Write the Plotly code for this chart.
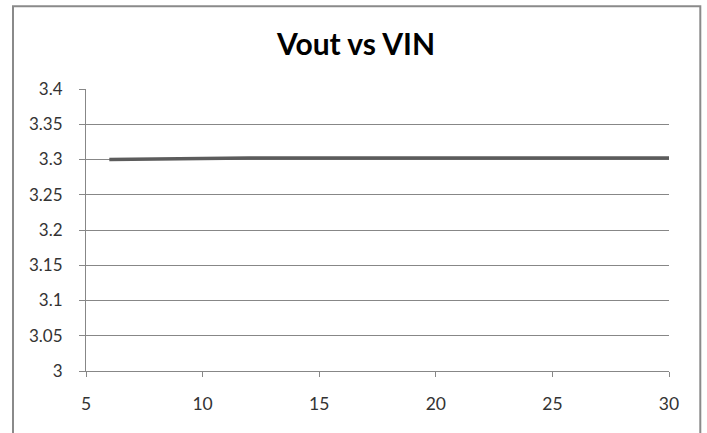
import plotly.graph_objects as go

vin = [6, 7, 8, 9, 10, 12, 15, 20, 25, 30]
vout = [3.300, 3.3005, 3.301, 3.3015, 3.302, 3.302, 3.302, 3.302, 3.302, 3.302]

x_ticks = [5, 10, 15, 20, 25, 30]
y_ticks = [3.0, 3.05, 3.1, 3.15, 3.2, 3.25, 3.3, 3.35, 3.4]
y_tick_labels = ["3", "3.05", "3.1", "3.15", "3.2", "3.25", "3.3", "3.35", "3.4"]

title_text = "Vout vs VIN"

W, H = 707, 433
# plot area in window pixels: x 86..669, y 89..371.5
L = 86
T = 89
R = W - 669
B = H - 371.5
pw = W - L - R
ph = H - T - B

def wx(px):  # window px -> paper x
    return (px - L) / pw

def wy(py):  # window px -> paper y
    return (H - B - py) / ph

fig = go.Figure()
fig.add_trace(go.Scatter(
    x=vin, y=vout, mode="lines",
    line=dict(color="#5c5c5c", width=3.5),
    showlegend=False, hoverinfo="skip",
))

fig.update_layout(
    width=W, height=H,
    margin=dict(l=L, r=R, t=T, b=B),
    paper_bgcolor="white", plot_bgcolor="white",
    font=dict(family="Lato", color="#333333"),
    title=dict(text="<b>" + title_text + "</b>", x=wx(356), xref="paper",
               xanchor="center", y=1 - 44 / H, yanchor="middle",
               font=dict(family="Lato", size=30, color="black")),
    xaxis=dict(range=[5, 30], tickvals=x_ticks, ticktext=[str(v) for v in x_ticks],
               showgrid=False, zeroline=False, showline=True, linecolor="#878787",
               linewidth=1, ticks="outside", ticklen=5, tickcolor="#878787",
               tickfont=dict(size=17.5, color="#333333"), ticklabelstandoff=12),
    yaxis=dict(range=[3.0, 3.4], tickvals=y_ticks, ticktext=y_tick_labels,
               showgrid=True, gridcolor="#878787", gridwidth=1, zeroline=False,
               showline=True, linecolor="#878787", linewidth=1,
               ticks="outside", ticklen=6, tickcolor="#878787",
               tickfont=dict(size=17, color="#333333"), ticklabelstandoff=13),
)

fig.add_shape(type="rect", xref="paper", yref="paper",
              x0=wx(13), x1=wx(700.3),
              y0=wy(470), y1=wy(6),
              line=dict(color="#8a8a8a", width=2), layer="below")

fig.write_html("out.html", config={"displayModeBar": False},
               post_script="document.body.style.margin='0';document.body.style.overflow='hidden';")
